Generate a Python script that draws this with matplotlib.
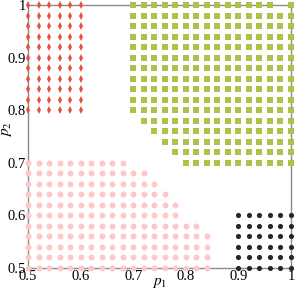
import matplotlib
matplotlib.use("Agg")
import matplotlib.pyplot as plt

# -----------------------------
# Data
# -----------------------------
grid = [0.50, 0.52, 0.54, 0.56, 0.58, 0.60, 0.62, 0.64, 0.66, 0.68, 0.70, 0.72, 0.74,
        0.76, 0.78, 0.80, 0.82, 0.84, 0.86, 0.88, 0.90, 0.92, 0.94, 0.96, 0.98, 1.00]

# red diamonds: top-left block
red_y = [0.80, 0.82, 0.84, 0.86, 0.88, 0.90, 0.92, 0.94, 0.96, 0.98, 1.00]
red_xmin = [0.50] * len(red_y)
red_xmax = [0.60] * len(red_y)

# green squares: top-right staircase
green_y = [0.70, 0.72, 0.74, 0.76, 0.78, 0.80, 0.82, 0.84, 0.86, 0.88, 0.90, 0.92,
           0.94, 0.96, 0.98, 1.00]
green_xmin = [0.80, 0.78, 0.76, 0.74, 0.72, 0.70, 0.70, 0.70, 0.70, 0.70, 0.70, 0.70,
              0.70, 0.70, 0.70, 0.70]
green_xmax = [1.00] * len(green_y)
green_missing = [(0.98, 1.00)]

# pink circles: bottom-left region
pink_y = [0.50, 0.52, 0.54, 0.56, 0.58, 0.60, 0.62, 0.64, 0.66, 0.68, 0.70]
pink_xmin = [0.50] * len(pink_y)
pink_xmax = [0.84, 0.84, 0.84, 0.84, 0.82, 0.78, 0.78, 0.76, 0.74, 0.72, 0.68]

# black circles: bottom-right block
black_y = [0.50, 0.52, 0.54, 0.56, 0.58, 0.60]
black_xmin = [0.90] * len(black_y)
black_xmax = [1.00] * len(black_y)

xticks = [0.5, 0.6, 0.7, 0.8, 0.9, 1.0]
xtick_labels = ["0.5", "0.6", "0.7", "0.8", "0.9", "1"]


def expand(rows, xmin, xmax, skip=()):
    xs, ys = [], []
    for y, lo, hi in zip(rows, xmin, xmax):
        for x in grid:
            if lo - 1e-9 <= x <= hi + 1e-9:
                if any(abs(x - a) < 1e-9 and abs(y - b) < 1e-9 for a, b in skip):
                    continue
                xs.append(x)
                ys.append(y)
    return xs, ys


plt.rcParams["font.family"] = ["Liberation Serif", "DejaVu Serif"]
plt.rcParams["mathtext.fontset"] = "stix"

fig = plt.figure(figsize=(2.96, 2.91), dpi=100)
ax = fig.add_axes([28 / 296, 1 - 268 / 291, 263 / 296, 263 / 291])

px, py = expand(pink_y, pink_xmin, pink_xmax)
ax.plot(px, py, "o", color="#ffc8c8", ms=4.3, mew=0, clip_on=False, zorder=3)

bx, by = expand(black_y, black_xmin, black_xmax)
ax.plot(bx, by, "o", color="#262626", ms=3.7, mew=0, clip_on=False, zorder=3)

gx, gy = expand(green_y, green_xmin, green_xmax, green_missing)
ax.plot(gx, gy, "s", color="#abc34a", ms=3.9, mew=0, clip_on=False, zorder=3)

rx, ry = expand(red_y, red_xmin, red_xmax)
ax.plot(rx, ry, "d", color="#e8503c", ms=4.2, mew=0, clip_on=False, zorder=3)

ax.set_xlim(0.5, 1.0)
ax.set_ylim(0.5, 1.0)
ax.set_xticks(xticks)
ax.set_xticklabels(xtick_labels)
ax.set_yticks(xticks)
ax.set_yticklabels(xtick_labels)
ax.tick_params(length=0, pad=1.5, labelsize=10.5)

for s in ax.spines.values():
    s.set_color("#8c8c8c")
    s.set_linewidth(1.0)

ax.set_xlabel("$p_1$", fontsize=11, labelpad=0)
ax.set_ylabel("$p_2$", fontsize=11, labelpad=0)
ax.yaxis.set_label_coords(-0.055, 0.53)
ax.xaxis.set_label_coords(0.5, -0.03)

fig.savefig("out.png", dpi=100)
